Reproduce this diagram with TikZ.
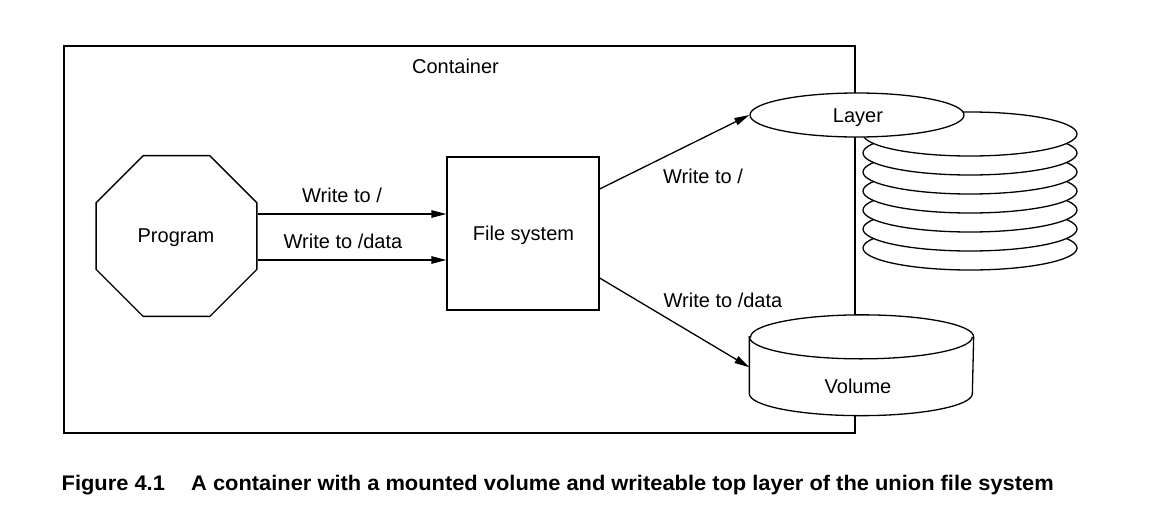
\documentclass[tikz,border=0pt]{standalone}
\usepackage{fontspec}
\setmainfont{Liberation Sans}
\usetikzlibrary{shapes.geometric,arrows.meta}
\begin{document}
\begin{tikzpicture}[x=1pt,y=1pt,
  line width=1.3pt,
  every node/.style={font=\fontsize{20}{24}\selectfont},
  txt/.style={inner sep=0pt,anchor=base},
  shp/.style={draw,fill=white,inner sep=0pt},
  arr/.style={-{Triangle[length=15pt,width=7.5pt]}},
  layerell/.style={ellipse,shp,minimum width=214pt,minimum height=44pt}
]
\useasboundingbox (0,0) rectangle (1156,-528);
% container
\node[draw,minimum width=791pt,minimum height=387pt,inner sep=0pt] (cont) at (459.5,-239.5) {};
\node[txt] (contlbl) at (455.5,-73) {Container};
% program octagon
\node[regular polygon,regular polygon sides=8,draw,minimum size=174pt,inner sep=0pt] (prog) at (176.5,-236) {};
\node[txt] (proglbl) at (176,-242) {Program};
% file system
\node[draw,minimum width=152pt,minimum height=153pt,inner sep=0pt] (fs) at (523,-233.5) {};
\node[txt] (fslbl) at (523.5,-240) {File system};
% arrows program -> fs
\draw[arr] ([yshift=22pt]prog.east) -- ([yshift=22pt]prog.east -| fs.west);
\draw[arr] ([yshift=-24pt]prog.east) -- ([yshift=-24pt]prog.east -| fs.west);
\node[txt] (w1) at (342,-202) {Write to /};
\node[txt] (w2) at (343,-248) {Write to /data};
% layer stack
\foreach \k in {6,5,...,0}{
  \node[layerell] (s\k) at (970,{-134-19*\k}) {};
}
\node[layerell] (layer) at (857,-115) {};
\node[txt] (layerlbl) at (858,-122) {Layer};
% volume cylinder
\node[inner sep=0pt,minimum width=223pt,minimum height=55.5pt] (vol) at (861.5,-365.25) {};
\filldraw[fill=white] (vol.north west) -- (vol.south west) arc (180:360:111.5pt and 22pt)
  -- (vol.north east) arc (0:180:111.5pt and 22pt) -- cycle;
\draw (vol.north west) arc (180:360:111.5pt and 22pt);
\node[txt] (vollbl) at (858,-393) {Volume};
% diagonal arrows
\draw[arr] ([yshift=44.5pt]fs.east) -- (layer.west);
\draw[arr] ([yshift=-44.5pt]fs.east) -- ([yshift=-2pt]vol.west);
\node[txt] (w3) at (703,-183) {Write to /};
\node[txt] (w4) at (723,-307) {Write to /data};
% caption
\node[inner sep=0pt,anchor=base west] (cap) at (61,-490)
  {\resizebox{992pt}{15.3pt}{\bfseries Figure 4.1\hspace{24pt}A container with a mounted volume and writeable top layer of the union file system}};
\end{tikzpicture}
\end{document}
